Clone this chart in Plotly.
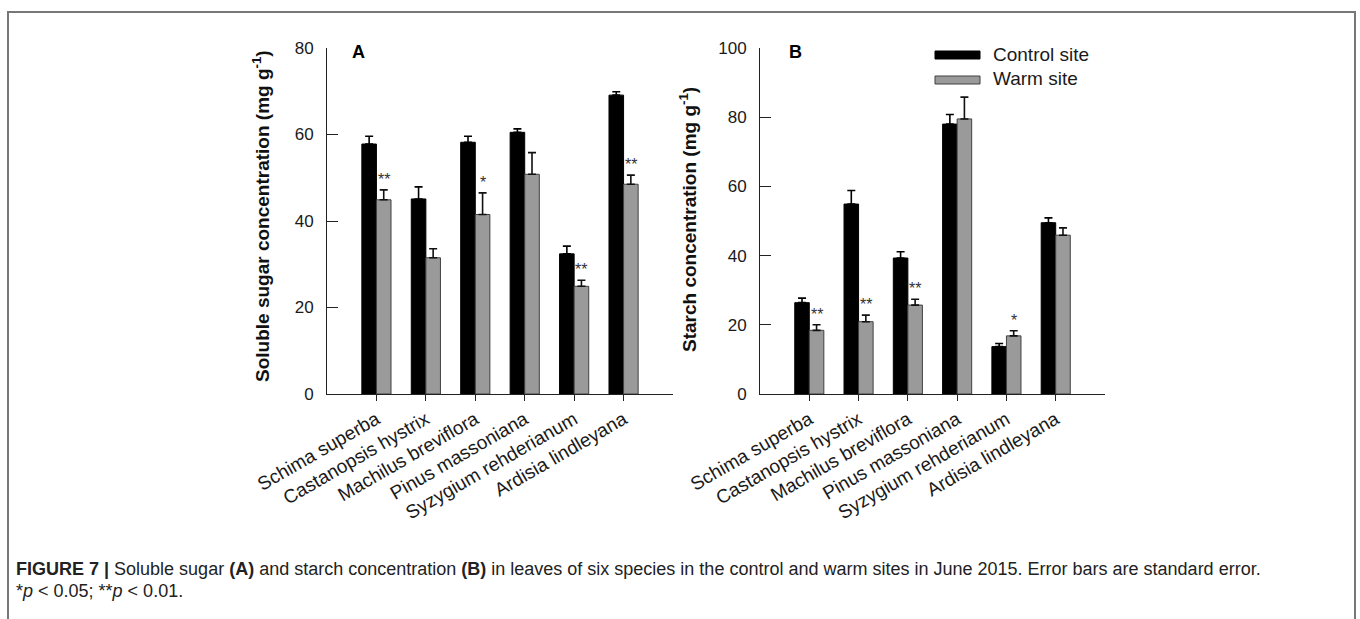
import plotly.graph_objects as go

# ---------------- data ----------------
species = ["Schima superba", "Castanopsis hystrix", "Machilus breviflora",
           "Pinus massoniana", "Syzygium rehderianum", "Ardisia lindleyana"]

sugar_control = [57.8, 45.1, 58.2, 60.5, 32.4, 69.1]
sugar_control_se = [1.8, 2.8, 1.4, 0.8, 1.8, 0.8]
sugar_warm = [44.9, 31.5, 41.5, 50.8, 24.9, 48.5]
sugar_warm_se = [2.3, 2.1, 5.0, 5.0, 1.4, 2.1]
sugar_sig = ["**", "", "*", "", "**", "**"]

starch_control = [26.4, 54.9, 39.3, 78.0, 13.7, 49.5]
starch_control_se = [1.3, 3.9, 1.8, 2.8, 0.9, 1.4]
starch_warm = [18.4, 20.9, 25.7, 79.5, 16.8, 45.9]
starch_warm_se = [1.6, 1.9, 1.7, 6.3, 1.5, 2.1]
starch_sig = ["**", "**", "**", "", "*", ""]

sugar_ticks = [0, 20, 40, 60, 80]
starch_ticks = [0, 20, 40, 60, 80, 100]

series_names = ["Control site", "Warm site"]
# --------------------------------------

W, H = 1360, 619
FONT = "Liberation Sans, Arial, sans-serif"
BLACK = "#000000"
GRAY = "#9a9a9a"
GRAY_LINE = "#404040"


def px_x(p):
    return p / W


def px_y(p):
    return 1 - p / H


fig = go.Figure()

panels = [
    ("x", "y", sugar_control, sugar_control_se, sugar_warm, sugar_warm_se, sugar_sig),
    ("x2", "y2", starch_control, starch_control_se, starch_warm, starch_warm_se, starch_sig),
]

annotations = []
for xa, ya, ctl, ctl_se, wrm, wrm_se, sig in panels:
    fig.add_trace(go.Bar(
        x=species, y=ctl, name=series_names[0], xaxis=xa, yaxis=ya,
        marker=dict(color=BLACK, line=dict(color=BLACK, width=1)),
        error_y=dict(type="data", array=ctl_se, arrayminus=[0] * len(ctl_se),
                     symmetric=False, color=BLACK, thickness=1.6, width=4),
        showlegend=False, hoverinfo="skip"))
    fig.add_trace(go.Bar(
        x=species, y=wrm, name=series_names[1], xaxis=xa, yaxis=ya,
        marker=dict(color=GRAY, line=dict(color=GRAY_LINE, width=1)),
        error_y=dict(type="data", array=wrm_se, arrayminus=[0] * len(wrm_se),
                     symmetric=False, color="#111111", thickness=1.6, width=4),
        showlegend=False, hoverinfo="skip"))
    for i, s in enumerate(sig):
        if s:
            annotations.append(dict(
                x=species[i], y=wrm[i] + wrm_se[i], xref=xa, yref=ya,
                text=s, showarrow=False, xanchor="center", yanchor="bottom",
                xshift=7.3, yshift=0,
                font=dict(family=FONT, size=16, color="#333333")))

ydom = [px_y(394), px_y(48)]

axis_common = dict(showgrid=False, zeroline=False, showline=True,
                   linecolor="#222222", linewidth=1, automargin=False)

xaxis_common = dict(axis_common, range=[-1, 6], ticks="outside", ticklen=6,
                    tickcolor="#222222", tickangle=-30,
                    tickfont=dict(family=FONT, size=19, color="#1a1a1a"))

yaxis_common = dict(axis_common, ticks="inside", ticklen=11, tickcolor="#222222",
                    ticklabelstandoff=9,
                    tickfont=dict(family=FONT, size=17, color="#1a1a1a"))

fig.update_layout(
    template="none",
    width=W, height=H, autosize=False,
    margin=dict(l=0, r=0, t=0, b=0, pad=0),
    paper_bgcolor="white", plot_bgcolor="white",
    barmode="group", bargap=0.41, bargroupgap=0,
    showlegend=False,
    font=dict(family=FONT, color="#1a1a1a"),
    xaxis=dict(xaxis_common, domain=[px_x(327), px_x(673)], anchor="y"),
    yaxis=dict(yaxis_common, domain=ydom, range=[0, 80], tickvals=sugar_ticks, anchor="x"),
    xaxis2=dict(xaxis_common, domain=[px_x(760), px_x(1105)], anchor="y2"),
    yaxis2=dict(yaxis_common, domain=ydom, range=[0, 100], tickvals=starch_ticks, anchor="x2"),
)

# y-axis titles
annotations.append(dict(x=px_x(261), y=px_y(216), xref="paper", yref="paper",
                        text="<b>Soluble sugar concentration (mg g<sup>-1</sup>)</b>",
                        textangle=-90, showarrow=False, xanchor="center", yanchor="middle",
                        font=dict(family=FONT, size=19, color="#111111")))
annotations.append(dict(x=px_x(688), y=px_y(220), xref="paper", yref="paper",
                        text="<b>Starch concentration (mg g<sup>-1</sup>)</b>",
                        textangle=-90, showarrow=False, xanchor="center", yanchor="middle",
                        font=dict(family=FONT, size=19, color="#111111")))

# panel letters
for letter, xp in (("A", 358), ("B", 795)):
    annotations.append(dict(x=px_x(xp), y=px_y(52), xref="paper", yref="paper",
                            text="<b>%s</b>" % letter, showarrow=False,
                            xanchor="center", yanchor="middle",
                            font=dict(family=FONT, size=18, color="#000000")))

# legend (manual)
shapes = []
legend_rows = [(series_names[0], BLACK, BLACK, 51, 59, 54),
               (series_names[1], GRAY, GRAY_LINE, 76, 84, 79)]
for name, fill, line, ytop, ybot, ytxt in legend_rows:
    shapes.append(dict(type="rect", xref="paper", yref="paper",
                       x0=px_x(935), x1=px_x(980), y0=px_y(ybot), y1=px_y(ytop),
                       fillcolor=fill, line=dict(color=line, width=1)))
    annotations.append(dict(x=px_x(991), y=px_y(ytxt), xref="paper", yref="paper",
                            text=name, showarrow=False, xanchor="left", yanchor="middle",
                            font=dict(family=FONT, size=19, color="#1a1a1a")))

# frame
shapes.append(dict(type="rect", xref="paper", yref="paper",
                   x0=px_x(8), x1=px_x(1355), y0=-0.05, y1=px_y(12),
                   line=dict(color="#777777", width=2), fillcolor="rgba(0,0,0,0)"))

# caption
annotations.append(dict(x=px_x(14), y=px_y(569), xref="paper", yref="paper",
                        text="<b>FIGURE 7 |</b> Soluble sugar <b>(A)</b> and starch concentration "
                             "<b>(B)</b> in leaves of six species in the control and warm sites in "
                             "June 2015. Error bars are standard error.",
                        showarrow=False, xanchor="left", yanchor="middle",
                        font=dict(family=FONT, size=18, color="#222222")))
annotations.append(dict(x=px_x(14), y=px_y(591), xref="paper", yref="paper",
                        text="*<i>p</i> &lt; 0.05; **<i>p</i> &lt; 0.01.",
                        showarrow=False, xanchor="left", yanchor="middle",
                        font=dict(family=FONT, size=18, color="#222222")))

fig.update_layout(annotations=annotations, shapes=shapes)

fig.write_html("out.html")
